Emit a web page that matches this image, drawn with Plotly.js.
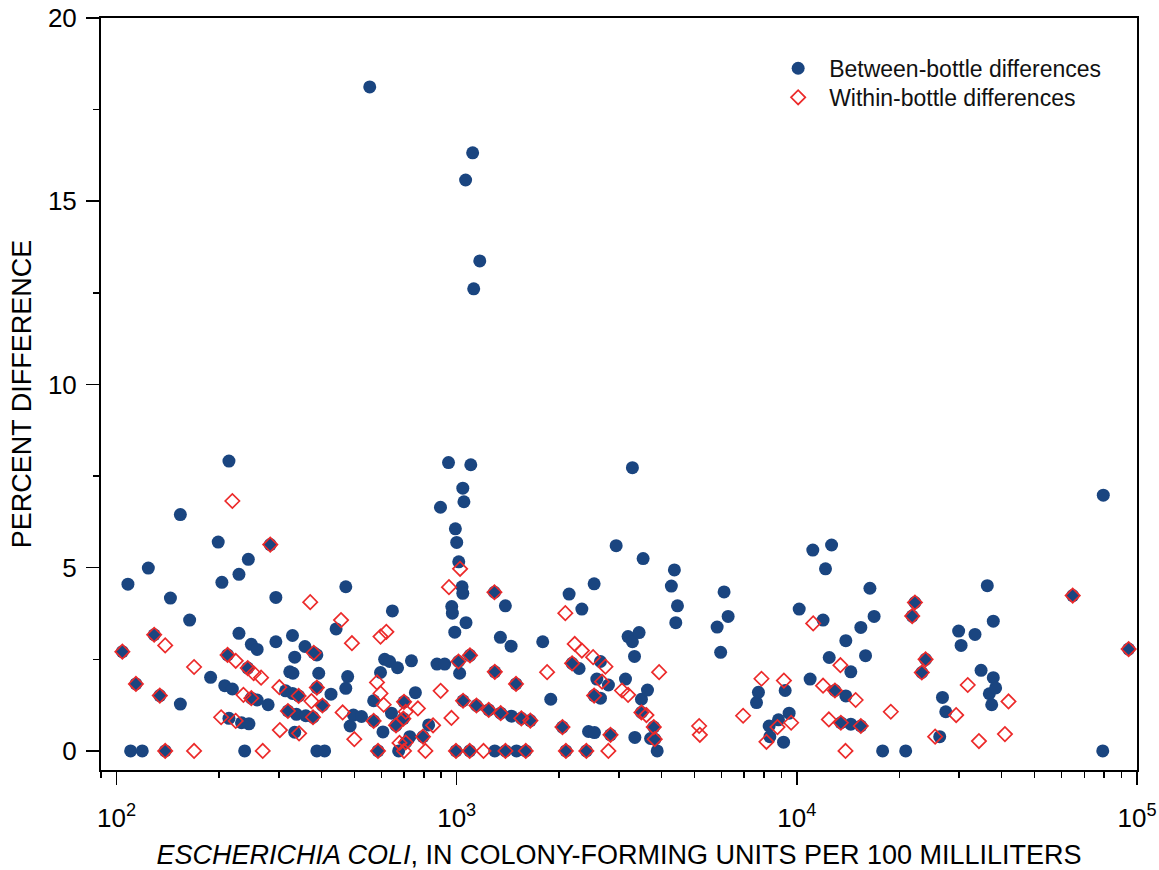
<!DOCTYPE html>
<html>
<head>
<meta charset="utf-8">
<script src="https://cdn.plot.ly/plotly-3.0.1.min.js"></script>
<style>
  html, body { margin: 0; padding: 0; background: #ffffff; }
  #chart { width: 1159px; height: 870px; }
</style>
</head>
<body>
<div id="chart"></div>
<script>
// E. coli concentration (CFU per 100 mL) and percent difference between replicate counts

// Between-bottle differences
const betweenX = [
  104, 108, 110, 114, 119, 124, 129, 134, 139, 144,
  154, 154, 164, 189, 199, 204, 208, 212, 214, 214,
  219, 229, 229, 233, 238, 243, 244, 245, 249, 249,
  259, 259, 279, 283, 294, 294, 314, 319, 323, 329,
  329, 330, 334, 334, 338, 343, 358, 360, 378, 380,
  388, 388, 388, 393, 403, 409, 427, 442, 472, 472,
  478, 486, 497, 525, 555, 570, 570, 587, 597, 607,
  614, 635, 643, 647, 670, 663, 675, 697, 700, 708,
  728, 736, 756, 796, 827, 875, 896, 922, 946, 967,
  971, 987, 991, 995, 1000, 1012, 1014, 1020, 1037, 1042,
  1042, 1044, 1050, 1062, 1065, 1092, 1094, 1100, 1114, 1122,
  1143, 1169, 1242, 1291, 1294, 1294, 1344, 1347, 1390, 1391,
  1445, 1449, 1494, 1499, 1549, 1596, 1646, 1790, 1890, 2046,
  2094, 2140, 2184, 2290, 2333, 2405, 2441, 2535, 2535, 2541,
  2582, 2646, 2646, 2793, 2832, 2943, 3135, 3190, 3285, 3285,
  3332, 3340, 3437, 3492, 3492, 3532, 3638, 3715, 3796, 3822,
  3885, 4276, 4365, 4406, 4457, 5830, 5970, 6110, 6280, 7610,
  7710, 8290, 8330, 8830, 9140, 9240, 9490, 10160, 10940, 11140,
  11940, 12140, 12450, 12650, 12940, 13470, 13930, 13930, 14410, 14410,
  15420, 15420, 15920, 16400, 16870, 17870, 20890, 21830, 22240, 23300,
  23900, 26300, 26800, 27400, 29900, 30400, 33400, 34800, 36300, 36800,
  37400, 37800, 37800, 38400, 64700, 79300, 79600, 94500
];
const betweenY = [
  2.71, 4.55, 0, 1.83, 0, 4.99, 3.17, 1.51, 0, 4.17,
  6.45, 1.28, 3.57, 2.01, 5.70, 4.60, 1.78, 2.62, 7.91, 0.89,
  1.69, 4.82, 3.21, 0.77, 0, 2.26, 5.23, 0.74, 2.91, 1.44,
  2.77, 1.39, 1.26, 5.63, 4.19, 2.98, 1.64, 1.09, 2.16, 3.15,
  1.57, 2.12, 2.56, 0.51, 1.00, 1.50, 2.85, 0.96, 0.92, 2.68,
  2.62, 1.73, 0, 2.12, 1.24, 0, 1.55, 3.33, 4.48, 1.71,
  2.03, 0.68, 0.98, 0.94, 18.12, 1.37, 0.82, 0, 2.14, 0.52,
  2.50, 2.44, 1.03, 3.82, 2.27, 0.70, 0, 0.88, 1.34, 0.23,
  0.39, 2.46, 1.59, 0.39, 0.71, 2.37, 6.65, 2.37, 7.87, 3.94,
  3.76, 3.24, 6.06, 0, 5.69, 2.44, 5.16, 2.12, 4.48, 4.30,
  7.17, 1.37, 6.80, 15.58, 3.50, 0, 2.61, 7.81, 16.32, 12.61,
  1.24, 13.37, 1.12, 4.33, 2.16, 0, 3.10, 1.03, 3.96, 0,
  2.86, 0.95, 1.83, 0, 0.89, 0, 0.83, 2.98, 1.41, 0.65,
  0, 4.28, 2.39, 2.25, 3.87, 0, 0.53, 4.56, 1.51, 0.50,
  1.96, 2.44, 1.44, 1.80, 0.44, 5.60, 1.96, 3.12, 7.73, 2.98,
  2.58, 0.37, 3.23, 1.41, 1.05, 5.25, 1.66, 0.34, 0.65, 0.32,
  0, 4.50, 4.94, 3.50, 3.96, 3.38, 2.69, 4.34, 3.67, 1.32,
  1.60, 0.68, 0.39, 0.85, 0.24, 1.65, 1.03, 3.87, 1.96, 5.48,
  3.57, 4.97, 2.55, 5.62, 1.65, 0.77, 3.01, 1.50, 2.16, 0.73,
  3.37, 0.68, 2.60, 4.44, 3.67, 0, 0, 3.68, 4.05, 2.14,
  2.50, 0.39, 1.46, 1.07, 3.27, 2.88, 3.18, 2.20, 4.51, 1.56,
  1.26, 3.54, 2.00, 1.72, 4.24, 0, 6.98, 2.78
];

// Within-bottle differences
const withinX = [
  104, 114, 129, 134, 139, 139, 169, 169, 203, 212,
  219, 224, 224, 236, 243, 249, 253, 266, 269, 283,
  301, 302, 319, 343, 344, 371, 374, 378, 380, 388,
  403, 457, 462, 492, 500, 570, 583, 587, 597, 597,
  610, 621, 663, 679, 697, 700, 700, 708, 708, 769,
  796, 809, 852, 897, 949, 965, 995, 1012, 1023, 1044,
  1092, 1094, 1143, 1199, 1242, 1291, 1294, 1347, 1391, 1494,
  1549, 1596, 1646, 1844, 2046, 2086, 2094, 2184, 2223, 2333,
  2405, 2518, 2535, 2675, 2737, 2792, 2832, 3062, 3190, 3492,
  3612, 3796, 3822, 3936, 5161, 5185, 6950, 7870, 8140, 8770,
  9160, 9620, 11170, 11940, 12420, 12940, 13430, 13470, 13900, 14890,
  15420, 18890, 21830, 22240, 23300, 23900, 25500, 29400, 31800, 34300,
  40900, 41900, 64700, 94500
];
const withinY = [
  2.71, 1.83, 3.17, 1.51, 2.88, 0, 2.29, 0, 0.92, 2.62,
  6.82, 2.46, 0.82, 1.53, 2.26, 1.44, 2.12, 2.00, 0, 5.63,
  1.74, 0.57, 1.09, 1.50, 0.48, 4.06, 1.36, 0.92, 2.68, 1.73,
  1.24, 3.57, 1.05, 2.94, 0.32, 0.82, 1.87, 0, 3.12, 1.57,
  1.26, 3.25, 0.70, 0.22, 0.88, 1.34, 0, 1.07, 0.23, 1.16,
  0.39, 0, 0.70, 1.64, 4.47, 0.90, 0, 2.44, 4.97, 1.37,
  0, 2.61, 1.24, 0, 1.12, 4.33, 2.16, 1.03, 0, 1.83,
  0.89, 0, 0.83, 2.15, 0.65, 3.76, 0, 2.39, 2.92, 2.74,
  0, 2.56, 1.51, 1.89, 2.30, 0, 0.44, 1.65, 1.53, 1.05,
  0.98, 0.65, 0.32, 2.15, 0.68, 0.44, 0.96, 1.97, 0.25, 0.65,
  1.92, 0.77, 3.48, 1.78, 0.86, 1.65, 2.34, 0.77, 0, 1.39,
  0.68, 1.07, 3.68, 4.05, 2.14, 2.50, 0.39, 0.98, 1.80, 0.27,
  0.46, 1.35, 4.24, 2.78
];

// Axis tick values and labels
const xTickVals = [100, 1000, 10000, 100000];
const xTickText = ['10<sup>2</sup>', '10<sup>3</sup>', '10<sup>4</sup>', '10<sup>5</sup>'];
const xMinorVals = [90,
  200, 300, 400, 500, 600, 700, 800, 900,
  2000, 3000, 4000, 5000, 6000, 7000, 8000, 9000,
  20000, 30000, 40000, 50000, 60000, 70000, 80000, 90000];
const yTickVals = [0, 5, 10, 15, 20];

const FONT = 'Arial, "Liberation Sans", Helvetica, sans-serif';
const BLUE = '#1a4580';
const RED = '#ec2a2a';

const traces = [
  {
    type: 'scatter',
    mode: 'markers',
    name: 'Between-bottle differences',
    x: betweenX,
    y: betweenY,
    legend: 'legend',
    marker: { symbol: 'circle', size: 13, color: BLUE, line: { width: 0 } },
    cliponaxis: false
  },
  {
    type: 'scatter',
    mode: 'markers',
    name: 'Within-bottle differences',
    x: withinX,
    y: withinY,
    legend: 'legend2',
    marker: { symbol: 'diamond-open', size: 11, color: RED, line: { width: 1.7, color: RED } },
    cliponaxis: false
  }
];

// One legend entry per row, stacked at a fixed spacing
const legendStyle = {
  x: 0.643, xanchor: 'left', yanchor: 'top',
  bgcolor: 'rgba(0,0,0,0)', borderwidth: 0,
  font: { family: FONT, size: 23, color: '#111111' },
  itemwidth: 52
};

const layout = {
  width: 1159,
  height: 870,
  margin: { l: 101, r: 22, t: 18, b: 100 },
  paper_bgcolor: '#ffffff',
  plot_bgcolor: '#ffffff',
  font: { family: FONT, color: '#000000', size: 26 },
  showlegend: true,
  legend: Object.assign({ y: 0.9617 }, legendStyle),
  legend2: Object.assign({ y: 0.9231 }, legendStyle),
  xaxis: {
    type: 'log',
    range: [Math.log10(90), 5],
    tickmode: 'array',
    tickvals: xTickVals,
    ticktext: xTickText,
    ticks: 'outside',
    ticklen: 13,
    tickwidth: 1.5,
    tickcolor: '#000000',
    ticklabelstandoff: 11,
    minor: { tickmode: 'array', tickvals: xMinorVals, ticks: 'outside', ticklen: 6, tickwidth: 1.5, tickcolor: '#000000', showgrid: false },
    showline: true,
    linecolor: '#000000',
    linewidth: 2,
    mirror: true,
    showgrid: false,
    zeroline: false,
    tickfont: { family: FONT, size: 26, color: '#000000' },
    title: {
      text: '<i>ESCHERICHIA COLI</i>, IN COLONY-FORMING UNITS PER 100 MILLILITERS',
      font: { family: FONT, size: 27, color: '#000000' },
      standoff: 17
    }
  },
  yaxis: {
    range: [-0.52, 20],
    tickmode: 'array',
    tickvals: yTickVals,
    ticks: 'outside',
    ticklen: 13,
    tickwidth: 1.5,
    tickcolor: '#000000',
    ticklabelstandoff: 4,
    minor: { dtick: 2.5, tick0: 0, ticks: 'outside', ticklen: 6, tickwidth: 1.5, tickcolor: '#000000', showgrid: false },
    showline: true,
    linecolor: '#000000',
    linewidth: 2,
    mirror: true,
    showgrid: false,
    zeroline: false,
    tickfont: { family: FONT, size: 26, color: '#000000' },
    title: {
      text: 'PERCENT DIFFERENCE',
      font: { family: FONT, size: 27, color: '#000000' },
      standoff: 8
    }
  }
};

Plotly.newPlot('chart', traces, layout, { displayModeBar: false, staticPlot: true });
</script>
</body>
</html>
